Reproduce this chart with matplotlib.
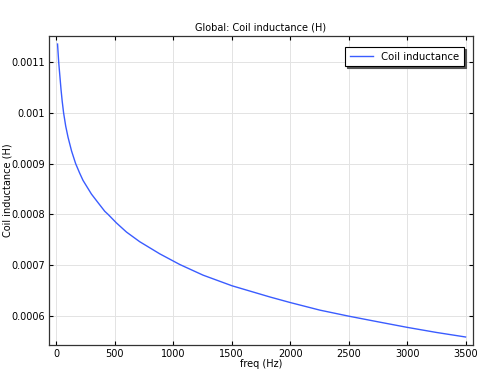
import matplotlib
matplotlib.use("Agg")
import matplotlib.pyplot as plt

freq = [10, 15, 20, 30, 40, 50, 62, 80, 100, 130, 165, 200, 228, 300, 350, 414,
        442, 514, 600, 713, 885, 1056, 1255, 1503, 1826, 2000, 2254, 2503, 2750,
        3001, 3250, 3500]
inductance = [0.001136, 0.001118, 0.0011, 0.001073, 0.001046, 0.001023, 0.001,
              0.000974, 0.000952, 0.000925, 0.0009, 0.000881, 0.000867, 0.00084,
              0.000825, 0.000806, 0.0008, 0.000783, 0.000765, 0.000746, 0.000722,
              0.000701, 0.00068, 0.000659, 0.000637, 0.000626, 0.000611,
              0.000599, 0.000588, 0.000577, 0.000567, 0.000558]

plt.rcParams['font.family'] = ['DejaVu Sans']
fig = plt.figure(figsize=(4.81, 3.75), dpi=100)
ax = fig.add_axes([49/481, 1-345.3/375, (473-49)/481, (345.3-36)/375])

ax.plot(freq, inductance, color='#3a5cff', lw=1.0, label='Coil inductance')

ax.set_xlim(-63, 3564)
ax.set_ylim(0.0005416, 0.0011519)
ax.set_xticks([0, 500, 1000, 1500, 2000, 2500, 3000, 3500])
ax.set_yticks([0.0006, 0.0007, 0.0008, 0.0009, 0.001, 0.0011])
ax.set_yticklabels(['0.0006', '0.0007', '0.0008', '0.0009', '0.001', '0.0011'])
ax.tick_params(direction='in', top=True, right=True, labelsize=7, length=3, width=0.8, pad=3)
ax.grid(True, color='#e3e3e3', lw=0.7)
for s in ax.spines.values():
    s.set_linewidth(0.9)
    s.set_color('#333333')

ax.set_xlabel('freq (Hz)', fontsize=7, labelpad=0)
ax.set_ylabel('Coil inductance (H)', fontsize=7)
ax.yaxis.set_label_coords(-0.086, 0.5)
ax.set_title('Global: Coil inductance (H)', fontsize=7, pad=4)

leg = ax.legend(loc='upper right', fontsize=7.3, frameon=True, fancybox=False,
                shadow={'color': '#555555', 'alpha': 1, 'ox': 1.5, 'oy': -1.5},
                edgecolor='black', borderpad=0.45, handlelength=2.3,
                borderaxespad=0, bbox_to_anchor=(0.979, 0.964))
leg.get_frame().set_linewidth(0.8)

fig.savefig('out.png', dpi=100)
